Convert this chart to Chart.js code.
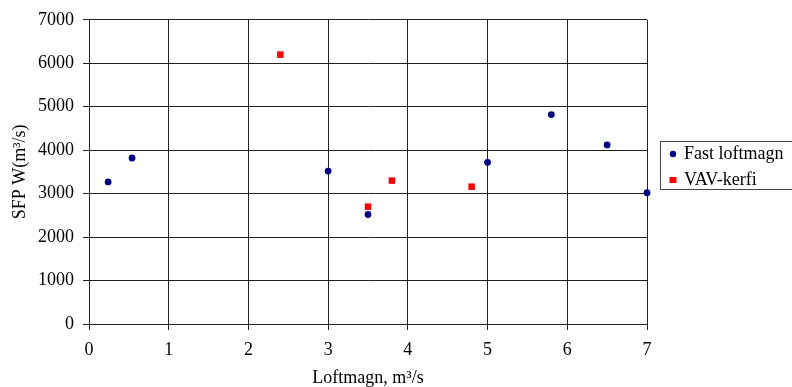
<!DOCTYPE html>
<html>
<head>
<meta charset="utf-8">
<script src="https://cdn.jsdelivr.net/npm/chart.js@4.4.0/dist/chart.umd.min.js"></script>
<style>
  html, body { margin: 0; padding: 0; background: #fff; }
  #sfpChart { display: block; }
</style>
</head>
<body>
<canvas id="sfpChart" width="792" height="387"></canvas>
<script>
// loftmagn (m3/s) og SFP fyrir hvora gerð kerfis
const fastFlow = [0.24, 0.54, 3.0, 3.5, 5.0, 5.8, 6.5, 7.0];
const fastSfp = [3270, 3820, 3520, 2520, 3720, 4820, 4120, 3020];
const vavFlow = [2.4, 3.5, 3.8, 4.8];
const vavSfp = [6200, 2700, 3300, 3160];

const seriesNames = ['Fast loftmagn', 'VAV-kerfi'];
const xTitle = 'Loftmagn, m³/s';
const yTitle = 'SFP W(m³/s)';
const xRange = [0, 7, 1];      // min, max, step
const yRange = [0, 7000, 1000];

const serif = '"Liberation Serif", "Times New Roman", serif';
const lineColor = '#222';

function toPoints(xs, ys) {
  return xs.map((x, i) => ({ x: x, y: ys[i] }));
}

// legend in a framed box to the right of the plot
const boxLegend = {
  id: 'boxLegend',
  afterDraw(chart) {
    const ctx = chart.ctx;
    const left = Math.round(chart.chartArea.right) + 13;
    const top = 141;
    ctx.save();
    ctx.strokeStyle = '#444';
    ctx.lineWidth = 1;
    ctx.strokeRect(left + 0.5, top + 0.5, 170, 48);
    ctx.font = '18px ' + serif;
    ctx.textBaseline = 'middle';
    chart.data.datasets.forEach((ds, i) => {
      const y = top + 13 + i * 26;
      ctx.fillStyle = ds.backgroundColor;
      if (ds.pointStyle === 'rect') {
        ctx.fillRect(left + 9.5, y - 3, 7, 6);
      } else {
        ctx.beginPath();
        ctx.arc(left + 13, y, 3.2, 0, Math.PI * 2);
        ctx.fill();
      }
      ctx.fillStyle = '#000';
      ctx.fillText(ds.label, left + 24, y);
    });
    ctx.restore();
  }
};

const ctx = document.getElementById('sfpChart').getContext('2d');
new Chart(ctx, {
  type: 'scatter',
  data: {
    datasets: [{
      label: seriesNames[0],
      data: toPoints(fastFlow, fastSfp),
      pointStyle: 'circle',
      pointRadius: 3.4,
      backgroundColor: '#000080',
      borderColor: '#000080',
      borderWidth: 0,
      clip: false
    }, {
      label: seriesNames[1],
      data: toPoints(vavFlow, vavSfp),
      pointStyle: 'rect',
      pointRadius: 4.6,
      backgroundColor: '#ff0000',
      borderColor: '#ff0000',
      borderWidth: 0,
      clip: false
    }]
  },
  options: {
    responsive: false,
    animation: false,
    layout: { padding: { top: 17, right: 145, bottom: 0, left: 0 } },
    plugins: {
      legend: { display: false },
      tooltip: { enabled: false }
    },
    scales: {
      x: {
        type: 'linear',
        min: xRange[0],
        max: xRange[1],
        afterFit: s => { s.height = 63; },
        ticks: { stepSize: xRange[2], color: '#000', padding: 9, font: { family: serif, size: 18 } },
        grid: { color: lineColor, lineWidth: 1, tickLength: 6, tickColor: lineColor },
        border: { color: lineColor },
        title: {
          display: true,
          text: xTitle,
          color: '#000',
          font: { family: serif, size: 18, lineHeight: 1 },
          padding: { top: 0, bottom: 0 }
        }
      },
      y: {
        min: yRange[0],
        max: yRange[1],
        afterFit: s => { s.width = 89; },
        ticks: {
          stepSize: yRange[2],
          color: '#000',
          padding: 9,
          font: { family: serif, size: 18 },
          callback: v => String(v)
        },
        grid: { color: lineColor, lineWidth: 1, tickLength: 6, tickColor: lineColor },
        border: { color: lineColor },
        title: {
          display: true,
          text: yTitle,
          color: '#000',
          font: { family: serif, size: 18, lineHeight: 1 },
          padding: { top: 11, bottom: 0 }
        }
      }
    }
  },
  plugins: [boxLegend]
});
</script>
</body>
</html>
